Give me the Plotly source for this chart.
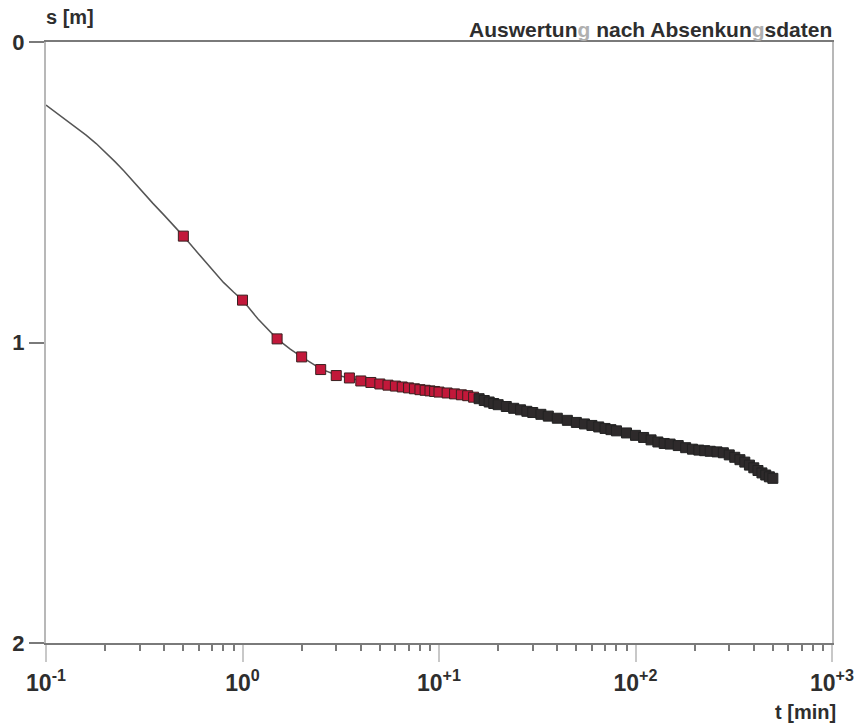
import plotly.graph_objects as go

# Measured drawdown data (t in min, s in m)
t_obs = [0.5, 1, 1.5, 2, 2.5, 3, 3.5, 4, 4.5, 5, 5.5, 6, 6.5, 7, 7.5, 8, 8.5, 9, 9.5, 10,
         11, 12, 13, 14, 15, 16, 17, 18, 19, 20, 22, 24, 26, 28, 30, 33, 36, 40, 45, 50,
         55, 60, 65, 70, 75, 80, 90, 100, 110, 120, 130, 140, 150, 165, 180, 195, 210,
         225, 240, 260, 280, 300, 320, 340, 360, 380, 400, 420, 440, 460, 480, 500]
s_obs = [0.646, 0.859, 0.988, 1.048, 1.090, 1.110, 1.118, 1.128, 1.133, 1.138, 1.142, 1.145,
         1.148, 1.151, 1.154, 1.157, 1.159, 1.161, 1.163, 1.165, 1.168, 1.171, 1.174, 1.177,
         1.182, 1.187, 1.193, 1.198, 1.203, 1.207, 1.213, 1.219, 1.224, 1.229, 1.233, 1.239,
         1.245, 1.252, 1.259, 1.266, 1.271, 1.276, 1.281, 1.286, 1.290, 1.294, 1.301, 1.309,
         1.316, 1.324, 1.331, 1.336, 1.338, 1.343, 1.350, 1.355, 1.358, 1.360, 1.362, 1.364,
         1.367, 1.374, 1.382, 1.390, 1.398, 1.408, 1.417, 1.426, 1.434, 1.441, 1.447, 1.452]

# Fitted type curve
t_fit = [0.1, 0.115, 0.13, 0.145, 0.16, 0.18, 0.2, 0.225, 0.25, 0.275, 0.3, 0.35, 0.4,
         0.45, 0.5, 0.6, 0.7, 0.8, 0.9, 1, 1.2, 1.5, 1.75, 2, 2.5, 3, 4, 5, 7, 10, 15,
         20, 30, 50, 100, 150, 200, 250, 300, 400, 500]
s_fit = [0.210, 0.240, 0.265, 0.288, 0.310, 0.338, 0.366, 0.399, 0.430, 0.461, 0.490,
         0.537, 0.577, 0.613, 0.646, 0.706, 0.758, 0.800, 0.832, 0.859, 0.922, 0.988,
         1.022, 1.048, 1.088, 1.108, 1.127, 1.138, 1.151, 1.165, 1.182, 1.207, 1.233,
         1.266, 1.309, 1.338, 1.355, 1.363, 1.374, 1.417, 1.452]

x_tickvals = [0.1, 1, 10, 100, 1000]
x_ticktext = ["10<sup>-1</sup>", "10<sup>0</sup>", "10<sup>+1</sup>", "10<sup>+2</sup>", "10<sup>+3</sup>"]
y_tickvals = [0, 1, 2]
y_ticktext = ["0", "1", "2"]

FONT = "Liberation Sans"
TXT = "#2e2e2e"

marker_colors = ["#c2183a" if t <= 15 else "#2e2a2b" for t in t_obs]
marker_lines = ["#3a2020" if t <= 15 else "#222222" for t in t_obs]

fig = go.Figure()
fig.add_trace(go.Scatter(x=t_fit, y=s_fit, mode="lines",
                         line=dict(color="#555555", width=1.5),
                         hoverinfo="skip", showlegend=False))
fig.add_trace(go.Scatter(x=t_obs, y=s_obs, mode="markers",
                         marker=dict(symbol="square", size=10, color=marker_colors,
                                     line=dict(color=marker_lines, width=1)),
                         showlegend=False))

fig.update_layout(
    width=866, height=727,
    margin=dict(l=45, r=28, t=42, b=84),
    paper_bgcolor="white", plot_bgcolor="white",
    font=dict(family=FONT, color=TXT, size=20),
    xaxis=dict(type="log", range=[-1, 3], tickvals=x_tickvals, ticktext=x_ticktext,
               showgrid=False, zeroline=False,
               showline=True, linecolor="#7a7a7a", linewidth=2, mirror=True,
               ticks="outside", ticklen=17, tickcolor="#c8c8c8", tickwidth=2,
               ticklabelstandoff=1,
               tickfont=dict(family=FONT, size=23, color=TXT, weight="bold"),
               minor=dict(ticks="outside", ticklen=6, tickcolor="#7a7a7a", tickwidth=1.5,
                          dtick="D1", showgrid=False)),
    yaxis=dict(range=[2, 0], tickvals=y_tickvals, ticktext=y_ticktext,
               showgrid=False, zeroline=False,
               showline=True, linecolor="#b8b8b8", linewidth=2, mirror=True,
               ticks="outside", ticklen=15, tickcolor="#7a7a7a", tickwidth=2,
               tickfont=dict(family=FONT, size=22, color=TXT, weight="bold")),
    annotations=[
        dict(text="s [m]", xref="paper", yref="paper", x=-0.003, y=1.042,
             xanchor="left", yanchor="middle", showarrow=False,
             font=dict(family=FONT, size=20, color=TXT, weight="bold")),
        dict(text="Auswertun<span style='color:#b0b0b0'>g</span> nach Absenkun<span style='color:#b0b0b0'>g</span>sdaten",
             xref="paper", yref="paper", x=1.003, y=1.02,
             xanchor="right", yanchor="middle", showarrow=False,
             font=dict(family=FONT, size=21, color=TXT, weight="bold")),
        dict(text="t [min]", xref="paper", yref="paper", x=1.008, y=-0.115,
             xanchor="right", yanchor="middle", showarrow=False,
             font=dict(family=FONT, size=20, color=TXT, weight="bold")),
    ],
)

fig.write_html("out.html")
